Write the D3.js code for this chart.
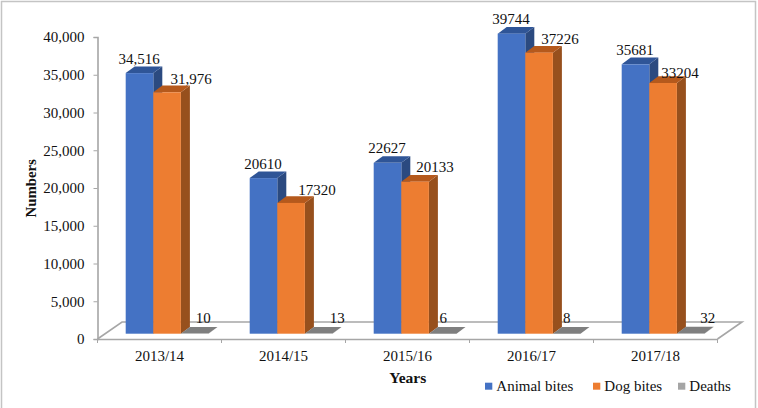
<!DOCTYPE html>
<html><head><meta charset="utf-8">
<script src="https://cdnjs.cloudflare.com/ajax/libs/d3/7.8.5/d3.min.js"></script>
<style>html,body{margin:0;padding:0;background:#fff}svg{display:block}text{font-family:"Liberation Serif",serif;fill:#111}</style>
</head><body><svg id="c" width="758" height="408"></svg>
<script>
const years=["2013/14","2014/15","2015/16","2016/17","2017/18"];
const seriesNames=["Animal bites","Dog bites","Deaths"];
const animalBites=[34516,20610,22627,39744,35681];
const dogBites=[31976,17320,20133,37226,33204];
const deaths=[10,13,6,8,32];
const animalLabels=["34,516","20610","22627","39744","35681"];
const dogLabels=["31,976","17320","20133","37226","33204"];
const deathLabels=["10","13","6","8","32"];
const yTicks=[0,5000,10000,15000,20000,25000,30000,35000,40000];
const frontFill=["#4472c4","#ed7d31","#a5a5a5"];
const topFill=["#2f5597","#b5591c","#7f7f7f"];
const sideFill=["#2b4a80","#97501d","#7f7f7f"];
const dogNudgeX=[24,26,20,21,17];
const dogNudgeY=[-8.3,-8,-9.4,-8.4,-5];
const deathNudge=[8.5,18.5,0.5,0,17];

const FS="15px";
const svg=d3.select("#c");
const X0=97.5,X1=717.5,Y0=339,Y1=37,DX=24.5,DY=17,BX=9,BY=6.7;
const x=d3.scaleBand().domain(years).range([X0,X1]);
const y=d3.scaleLinear().domain([0,40000]).range([Y0,Y1]);
const inner=d3.scaleBand().domain(seriesNames).range([28.2,28.2+27.6*3]);
const baseShift=-5.3;

// frame
svg.append("path").attr("d","M1.5,408V1.5H755.5V408").attr("fill","none").attr("stroke","#c4c4c4").attr("stroke-width",1.5);

// floor and axes
const axisCol="#a6a6a6";
svg.append("path").attr("fill","none").attr("stroke",axisCol).attr("stroke-width",1.6)
 .attr("d",`M${X0},${Y0}L${X0+DX},${Y0-DY}H${X1+DX}L${X1},${Y0}`);
const gy=svg.append("g").attr("transform",`translate(${X0},0)`).call(d3.axisLeft(y).tickValues(yTicks).tickSize(4).tickPadding(9).tickFormat(d3.format(",")));
const gx=svg.append("g").attr("transform",`translate(0,${Y0})`).call(d3.axisBottom(x).tickSize(0).tickPadding(11.5));
gx.selectAll(".tick").append("line").attr("x1",x.bandwidth()/2).attr("x2",x.bandwidth()/2).attr("y1",0).attr("y2",4).attr("stroke",axisCol);
gx.append("line").attr("x1",X0).attr("x2",X0).attr("y1",0).attr("y2",4).attr("stroke",axisCol);
[gy,gx].forEach(g=>{g.selectAll("path.domain").attr("stroke",axisCol).attr("stroke-width",1.6);
 g.selectAll(".tick line").attr("stroke",axisCol);
 g.selectAll("text").style("font-size",FS).style("font-family","Liberation Serif").attr("fill","#111");});

// bars
const data=[animalBites,dogBites,deaths];
data.forEach((vals,si)=>{
  const g=svg.append("g");
  vals.forEach((v,i)=>{
    const l=x(years[i])+inner(seriesNames[si]), w=inner.bandwidth();
    const b=Y0+baseShift, t=y(v)+baseShift;
    g.append("path").attr("fill",sideFill[si]).attr("d",`M${l+w},${t}L${l+w+BX},${t-BY}V${b-BY}L${l+w},${b}Z`);
    g.append("path").attr("fill",topFill[si]).attr("d",`M${l},${t}L${l+BX},${t-BY}H${l+w+BX}L${l+w},${t}Z`);
    g.append("rect").attr("x",l).attr("y",t).attr("width",w).attr("height",b-t).attr("fill",frontFill[si]);
  });
});

// value labels
const lab=(s,px,py)=>svg.append("text").attr("x",px).attr("y",py).attr("text-anchor","middle").style("font-size",FS).text(s);
years.forEach((yr,i)=>{
  const w=inner.bandwidth();
  const a=x(yr)+inner(seriesNames[0])+w/2, d=x(yr)+inner(seriesNames[1])+w/2, e=x(yr)+inner(seriesNames[2])+w/2;
  lab(animalLabels[i],a-0.5,y(animalBites[i])+baseShift-9.5);
  lab(dogLabels[i],d+dogNudgeX[i],y(dogBites[i])+baseShift+dogNudgeY[i]);
  lab(deathLabels[i],e+deathNudge[i],323);
});

// titles
svg.append("text").attr("x",407.7).attr("y",382.7).attr("text-anchor","middle").style("font-size","15.5px").style("font-weight","bold").text("Years");
svg.append("text").attr("transform","translate(35.7,188.3) rotate(-90)").attr("text-anchor","middle").style("font-size","14.8px").style("font-weight","bold").text("Numbers");

// legend
const legX=[485,593,678];
seriesNames.forEach((n,i)=>{
  svg.append("rect").attr("x",legX[i]).attr("y",382.7).attr("width",7.3).attr("height",7).attr("fill",frontFill[i]);
  svg.append("text").attr("x",legX[i]+11.3).attr("y",390.7).style("font-size",FS).text(n);
});
</script></body></html>
